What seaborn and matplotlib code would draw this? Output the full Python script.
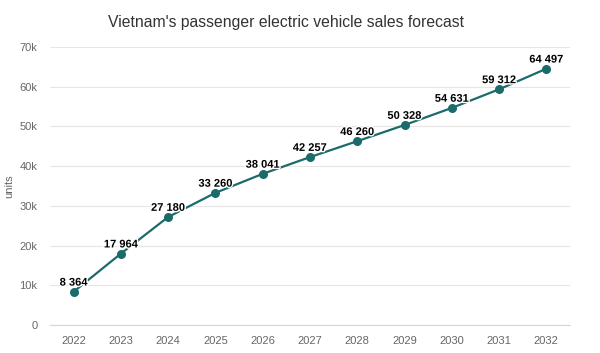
import matplotlib
matplotlib.use('Agg')
import matplotlib.pyplot as plt
import matplotlib.patheffects as pe
import seaborn as sns
import pandas as pd

# chart data
years = ["2022", "2023", "2024", "2025", "2026", "2027", "2028", "2029", "2030", "2031", "2032"]
sales = [8364, 17964, 27180, 33260, 38041, 42257, 46260, 50328, 54631, 59312, 64497]
y_ticks = [0, 10000, 20000, 30000, 40000, 50000, 60000, 70000]
y_tick_labels = ["0", "10k", "20k", "30k", "40k", "50k", "60k", "70k"]

df = pd.DataFrame({"year": years, "sales": sales})

sns.set_style("white")
plt.rcParams['font.family'] = ['Liberation Sans', 'DejaVu Sans']

fig = plt.figure(figsize=(6, 3.53), dpi=100)
ax = fig.add_axes([0.0833, 0.0793, 0.8667, 0.788])

line_color = "#1b6b6b"
sns.lineplot(data=df, x="year", y="sales", ax=ax, color=line_color, linewidth=1.6,
             marker="o", markersize=6.5, markeredgewidth=0, sort=False)

for i, v in enumerate(sales):
    label = f"{v:,}".replace(",", " ")
    ax.annotate(label, (i, v), xytext=(0, 3), textcoords="offset points",
                ha="center", va="bottom", fontsize=8, fontweight="bold", color="#000000",
                path_effects=[pe.withStroke(linewidth=2, foreground="white")])

ax.set_xlim(-0.5, len(years) - 0.5)
ax.set_ylim(0, 70000)
ax.set_yticks(y_ticks)
ax.set_yticklabels(y_tick_labels)
ax.grid(axis="y", color="#e6e6e6", linewidth=0.8)
ax.set_axisbelow(True)
for s in ["top", "right", "left"]:
    ax.spines[s].set_visible(False)
ax.spines["bottom"].set_color("#ccd6eb")
ax.spines["bottom"].set_linewidth(0.8)
ax.tick_params(axis="both", length=0, labelsize=8, labelcolor="#666666")
ax.tick_params(axis="x", pad=8)
ax.tick_params(axis="y", pad=9)
ax.set_xlabel("")
ax.set_ylabel("units", fontsize=8, color="#666666")
ax.yaxis.set_label_coords(-0.068, 0.5)

fig.text(0.477, 0.935, "Vietnam's passenger electric vehicle sales forecast",
         ha="center", va="center", fontsize=11.3, color="#333333")

fig.savefig("out.png", dpi=100)
